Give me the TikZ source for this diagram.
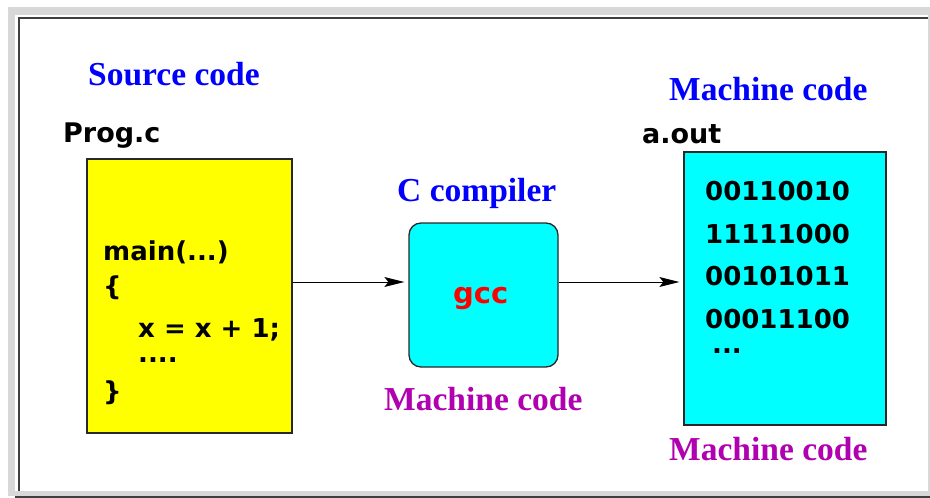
\documentclass[tikz,border=0pt]{standalone}
\usepackage{fontspec}
\setmainfont{Liberation Serif}
\newfontfamily\codefont{DejaVu Sans}
\usetikzlibrary{arrows.meta}
\definecolor{framegray}{RGB}{216,216,216}
\definecolor{framedark}{RGB}{64,64,64}
\definecolor{labelblue}{RGB}{0,0,255}
\definecolor{labelmag}{RGB}{176,0,176}
\definecolor{boxyellow}{RGB}{255,255,0}
\definecolor{boxcyan}{RGB}{0,255,255}
\definecolor{boxline}{RGB}{40,40,40}
\begin{document}
\begin{tikzpicture}[x=1pt,y=-1pt,
  title/.style={inner sep=0pt,anchor=base west,font=\fontsize{33.5}{38}\selectfont\bfseries},
  fname/.style={inner sep=0pt,anchor=base west,font=\codefont\fontsize{27}{32}\selectfont\bfseries},
  codeline/.style={inner sep=0pt,anchor=base west,font=\codefont\fontsize{26}{30}\selectfont\bfseries},
  dotline/.style={codeline,text height=5pt,text depth=0pt},
  filebox/.style={draw=boxline,line width=1.3pt,inner sep=0pt},
  flow/.style={line width=1pt,-{Stealth[length=20pt,width=10pt,inset=4pt]},shorten >=4pt}]
\useasboundingbox (0,0) rectangle (930,498);
% window frame
\fill[white] (0,0) rectangle (930,498);
\fill[framegray] (8,7) rectangle (930,496);
\fill[white] (15,15) rectangle (927.7,491);
\draw[framedark,line width=1.6pt] (19,491) -- (19,17.7) -- (927.7,17.7);
\fill[framedark] (15,496) rectangle (930,498);

% source file
\node[title,text=labelblue] (srclbl) at (88,85) {Source code};
\node[fname] (srcname) at (63,142) {Prog.c};
\node[filebox,fill=boxyellow,minimum width=205pt,minimum height=274pt] (src) at (189.5,296) {};
\node[codeline] (l1) at (103,260) {main(...)};
\node[codeline] (l2) at (103,295) {\{};
\node[codeline] (l3) at (138,337) {x = x + 1;};
\node[dotline] (l4) at (138,362) {....};
\node[codeline] (l5) at (103,400) {\}};

% compiler
\node[title,text=labelblue] (cclbl) at (397,201) {C compiler};
\node[filebox,fill=boxcyan,rounded corners=12pt,minimum width=149pt,minimum height=144pt] (cc) at (483.5,295) {};
\node[inner sep=0pt,anchor=base west,font=\codefont\fontsize{29}{34}\selectfont\bfseries,text=red] (gcc) at (453,303) {gcc};
\node[title,text=labelmag] (ccmc) at (384,410) {Machine code};

% executable
\node[title,text=labelblue] (outlbl) at (669,100) {Machine code};
\node[fname] (outname) at (642,143) {a.out};
\node[filebox,fill=boxcyan,minimum width=202pt,minimum height=273pt] (out) at (785,288.5) {};
\node[codeline] (b1) at (705,200) {00110010};
\node[codeline] (b2) at (705,243) {11111000};
\node[codeline] (b3) at (705,285) {00101011};
\node[codeline,text depth=0pt] (b4) at (705,328) {00011100};
\node[dotline] (b5) at (712,353) {...};
\node[title,text=labelmag] (outmc) at (669,460) {Machine code};

% data flow
\coordinate (flowy) at (0,282);
\draw[flow] (src.east |- flowy) -- (cc.west |- flowy);
\draw[flow] (cc.east |- flowy) -- (out.west |- flowy);
\end{tikzpicture}
\end{document}
